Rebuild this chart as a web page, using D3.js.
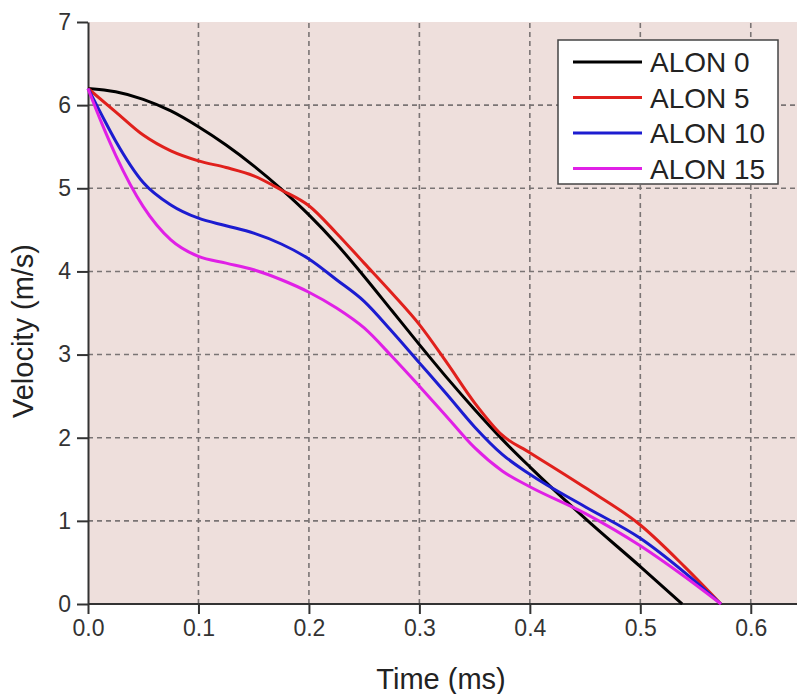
<!DOCTYPE html>
<html>
<head>
<meta charset="utf-8">
<script src="https://cdn.jsdelivr.net/npm/d3@7"></script>
<style>
  body { margin: 0; background: #fff; }
  text { font-family: "Liberation Sans", Arial, sans-serif; fill: #222; }
</style>
</head>
<body>
<div id="chart"></div>
<script>
// DATA
const seriesNames = ['ALON 0', 'ALON 5', 'ALON 10', 'ALON 15'];
const colors = ['#000000', '#e0201c', '#1c1cd0', '#e020e6'];

const alon0Time = [0, 0.025, 0.05, 0.075, 0.1, 0.125, 0.15, 0.175, 0.2, 0.225, 0.25, 0.275, 0.3, 0.325, 0.35, 0.375, 0.4, 0.45, 0.5, 0.538];
const alon0Vel  = [6.2, 6.16, 6.07, 5.93, 5.74, 5.52, 5.27, 4.99, 4.68, 4.33, 3.94, 3.53, 3.12, 2.72, 2.34, 1.98, 1.65, 1.03, 0.45, 0];

const alon5Time = [0, 0.025, 0.05, 0.075, 0.1, 0.125, 0.15, 0.175, 0.2, 0.225, 0.25, 0.275, 0.3, 0.325, 0.35, 0.375, 0.4, 0.45, 0.5, 0.54, 0.573];
const alon5Vel  = [6.2, 5.92, 5.64, 5.45, 5.33, 5.25, 5.15, 4.98, 4.79, 4.46, 4.1, 3.74, 3.36, 2.9, 2.42, 2.03, 1.82, 1.4, 0.95, 0.45, 0];

const alon10Time = [0, 0.0125, 0.025, 0.05, 0.075, 0.1, 0.125, 0.15, 0.175, 0.2, 0.225, 0.25, 0.275, 0.3, 0.325, 0.35, 0.375, 0.4, 0.45, 0.5, 0.54, 0.573];
const alon10Vel  = [6.2, 5.88, 5.57, 5.07, 4.8, 4.64, 4.55, 4.46, 4.33, 4.15, 3.9, 3.64, 3.28, 2.9, 2.52, 2.13, 1.8, 1.56, 1.17, 0.79, 0.38, 0];

const alon15Time = [0, 0.0125, 0.025, 0.05, 0.075, 0.1, 0.125, 0.15, 0.175, 0.2, 0.225, 0.25, 0.275, 0.3, 0.325, 0.35, 0.375, 0.4, 0.45, 0.5, 0.54, 0.573];
const alon15Vel  = [6.2, 5.78, 5.4, 4.78, 4.38, 4.18, 4.1, 4.02, 3.9, 3.75, 3.56, 3.32, 2.98, 2.62, 2.25, 1.88, 1.6, 1.41, 1.09, 0.7, 0.33, 0];

const xTicks = [0, 0.1, 0.2, 0.3, 0.4, 0.5, 0.6];
const yTicks = [0, 1, 2, 3, 4, 5, 6, 7];

const series = [
  { name: seriesNames[0], t: alon0Time, v: alon0Vel },
  { name: seriesNames[1], t: alon5Time, v: alon5Vel },
  { name: seriesNames[2], t: alon10Time, v: alon10Vel },
  { name: seriesNames[3], t: alon15Time, v: alon15Vel }
];

// CHART
const width = 797, height = 694;
const svg = d3.select('#chart').append('svg')
  .attr('width', width)
  .attr('height', height);

const x = d3.scaleLinear().domain([0, 0.65]).range([88, 806]);
const y = d3.scaleLinear().domain([0, 7]).range([604, 22]);

// plot background
svg.append('rect')
  .attr('x', x(0)).attr('y', y(7))
  .attr('width', width - x(0)).attr('height', y(0) - y(7))
  .style('fill', '#eedfdc');

// grid
svg.append('g').selectAll('line')
  .data(xTicks.filter(d => d > 0))
  .enter().append('line')
  .attr('x1', d => x(d)).attr('x2', d => x(d))
  .attr('y1', y(0)).attr('y2', y(7))
  .style('stroke', '#7a7474').style('stroke-width', 1.6)
  .style('stroke-dasharray', '5,4');

svg.append('g').selectAll('line')
  .data(yTicks.filter(d => d > 0 && d < 7))
  .enter().append('line')
  .attr('x1', x(0)).attr('x2', width)
  .attr('y1', d => y(d)).attr('y2', d => y(d))
  .style('stroke', '#7a7474').style('stroke-width', 1.6)
  .style('stroke-dasharray', '5,4');

// axes
const xAxis = svg.append('g')
  .attr('transform', 'translate(0,' + y(0) + ')')
  .call(d3.axisBottom(x).tickValues(xTicks).tickFormat(d3.format('.1f')).tickSize(10).tickSizeOuter(0));
const yAxis = svg.append('g')
  .attr('transform', 'translate(' + x(0) + ',0)')
  .call(d3.axisLeft(y).tickValues(yTicks).tickFormat(d3.format('d')).tickSize(11).tickSizeOuter(0));

[xAxis, yAxis].forEach(function(ax) {
  ax.select('.domain').style('stroke', '#333').style('stroke-width', 2);
  ax.selectAll('.tick line').style('stroke', '#333').style('stroke-width', 2);
  ax.selectAll('.tick text')
    .style('font-family', '"Liberation Sans", Arial, sans-serif')
    .style('font-size', '23px').style('fill', '#333');
});
xAxis.select('.domain').attr('d', 'M' + x(0) + ',0H' + width);
xAxis.selectAll('.tick text').attr('y', 16);
yAxis.selectAll('.tick text').attr('x', -17);

// curves
const line = d3.line()
  .x(d => x(d[0]))
  .y(d => y(d[1]))
  .curve(d3.curveMonotoneX);

series.forEach(function(s, i) {
  const pts = s.t.map((t, j) => [t, s.v[j]]);
  svg.append('path')
    .datum(pts)
    .attr('d', line)
    .style('fill', 'none')
    .style('stroke', colors[i])
    .style('stroke-width', 3);
});

// axis titles
svg.append('text')
  .attr('x', 441).attr('y', 689)
  .attr('text-anchor', 'middle')
  .style('font-size', '29px').style('fill', '#222')
  .text('Time (ms)');

svg.append('text')
  .attr('transform', 'translate(33,' + 331 + ') rotate(-90)')
  .attr('text-anchor', 'middle')
  .style('font-size', '29px').style('fill', '#222')
  .text('Velocity (m/s)');

// legend
const legend = svg.append('g');
legend.append('rect')
  .attr('x', 558).attr('y', 40).attr('width', 220).attr('height', 144)
  .style('fill', '#fff').style('stroke', '#444').style('stroke-width', 1.5);

seriesNames.forEach(function(name, i) {
  const ly = 62 + i * 35.5;
  legend.append('line')
    .attr('x1', 573).attr('x2', 642)
    .attr('y1', ly).attr('y2', ly)
    .style('stroke', colors[i]).style('stroke-width', 3);
  legend.append('text')
    .attr('x', 650).attr('y', ly + 10)
    .style('font-size', '28px').style('fill', '#222')
    .text(name);
});
</script>
</body>
</html>
